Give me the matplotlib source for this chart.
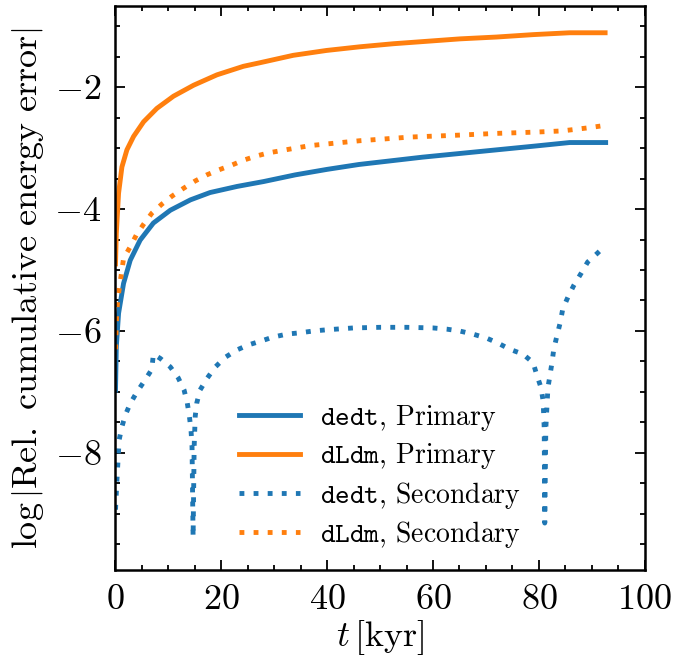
import numpy as np
import matplotlib
matplotlib.use("Agg")
import matplotlib.pyplot as plt
from matplotlib.ticker import MultipleLocator

plt.rcParams.update({
    "font.family": "serif",
    "font.serif": ["cmr10"],
    "mathtext.fontset": "cm",
    "axes.formatter.use_mathtext": True,
    "axes.unicode_minus": True,
    "font.size": 26,
})

# primary star, dedt
t_dedt_p = [0.05, 0.2, 0.63, 1.57, 2.83, 4.7, 7.2, 10.4, 14.2, 17.9, 23.0, 28.0,
            34.0, 40.0, 46.0, 52.0, 58.0, 65.0, 72.0, 79.0, 85.8, 92.6]
y_dedt_p = [-6.97, -6.26, -5.71, -5.22, -4.84, -4.51, -4.23, -4.02, -3.85, -3.73,
            -3.63, -3.55, -3.44, -3.35, -3.27, -3.21, -3.15, -3.09, -3.03, -2.97,
            -2.91, -2.91]

# primary star, dLdm
t_dldm_p = [0.05, 0.2, 0.63, 1.26, 2.2, 3.46, 5.35, 7.86, 11.0, 14.8, 19.2, 24.2,
            27.4, 33.6, 39.9, 46.2, 52.5, 58.8, 65.1, 72.0, 79.0, 85.8, 92.5]
y_dldm_p = [-4.90, -4.40, -3.74, -3.31, -3.03, -2.81, -2.57, -2.35, -2.15, -1.97,
            -1.80, -1.66, -1.60, -1.48, -1.40, -1.34, -1.29, -1.25, -1.21, -1.18,
            -1.14, -1.11, -1.11]

# secondary star, dedt
t_dedt_s = [0.05, 0.3, 0.6, 0.75, 1.26, 1.9, 2.83, 4.1, 5.66, 6.9, 7.2, 8.5, 10.4,
            11.9, 13.0, 13.6, 14.0, 14.3, 14.5, 14.7, 14.9, 15.1, 15.4, 16.0, 17.4,
            18.9, 20.8, 23.0, 25.1, 27.7, 29.8, 32.5, 34.9, 37.4, 40.0, 45.0, 50.0,
            55.0, 60.0, 62.6, 65.0, 67.5, 70.2, 72.3, 74.5, 77.0, 78.9, 79.6, 80.4,
            80.8, 81.0, 81.1, 81.3, 81.7, 82.1, 82.5, 82.8, 83.4, 84.0, 84.5, 85.5,
            86.6, 88.0, 89.2, 91.1, 92.3]
y_dedt_s = [-8.93, -8.47, -8.00, -7.78, -7.57, -7.38, -7.19, -7.00, -6.80, -6.63,
            -6.38, -6.45, -6.59, -6.77, -6.97, -7.18, -7.40, -7.62, -7.90, -9.38,
            -7.90, -7.40, -7.18, -6.97, -6.77, -6.59, -6.43, -6.31, -6.23, -6.16,
            -6.10, -6.05, -6.03, -6.00, -5.98, -5.95, -5.94, -5.94, -5.95, -5.97,
            -6.00, -6.05, -6.12, -6.20, -6.30, -6.38, -6.52, -6.72, -6.93, -7.15,
            -7.60, -9.15, -7.60, -6.93, -6.72, -6.50, -6.30, -6.08, -5.87, -5.64,
            -5.44, -5.25, -5.05, -4.87, -4.72, -4.62]

# secondary star, dLdm
t_dldm_s = [0.05, 0.3, 0.6, 1.57, 2.83, 3.96, 5.35, 6.9, 8.8, 10.7, 12.9, 15.1,
            17.3, 19.5, 22.0, 24.2, 26.7, 28.9, 32.8, 36.8, 41.5, 46.2, 51.0, 55.7,
            64.5, 72.0, 79.0, 84.3, 89.2, 91.6]
y_dldm_s = [-6.30, -5.66, -5.40, -4.81, -4.62, -4.43, -4.25, -4.07, -3.92, -3.79,
            -3.66, -3.54, -3.44, -3.36, -3.28, -3.20, -3.13, -3.08, -3.02, -2.96,
            -2.92, -2.88, -2.85, -2.82, -2.79, -2.76, -2.74, -2.72, -2.67, -2.64]

c_blue = "#1f77b4"
c_orange = "#ff7f0e"
lw = 3.5
dots = (0, (1, 1.9))

fig = plt.figure(figsize=(6.86, 6.59), dpi=100)
ax = fig.add_axes([0.168, 0.135, 0.772, 0.856])

ax.plot(t_dedt_p, y_dedt_p, color=c_blue, lw=lw, label=r"$\mathtt{dedt}$, Primary")
ax.plot(t_dldm_p, y_dldm_p, color=c_orange, lw=lw, label=r"$\mathtt{dLdm}$, Primary")
ax.plot(t_dedt_s, y_dedt_s, color=c_blue, lw=lw, ls=dots, label=r"$\mathtt{dedt}$, Secondary")
ax.plot(t_dldm_s, y_dldm_s, color=c_orange, lw=lw, ls=dots, label=r"$\mathtt{dLdm}$, Secondary")

ax.set_xlim(0, 100)
ax.set_ylim(-9.92, -0.67)
ax.xaxis.set_major_locator(MultipleLocator(20))
ax.xaxis.set_minor_locator(MultipleLocator(5))
ax.yaxis.set_major_locator(MultipleLocator(2))
ax.yaxis.set_minor_locator(MultipleLocator(0.5))
ax.tick_params(which="both", direction="in", top=True, right=True, width=1.3,
               labelsize=26)
ax.tick_params(which="major", length=7, pad=10)
ax.tick_params(which="minor", length=3.5)
for sp in ax.spines.values():
    sp.set_linewidth(1.8)

ax.set_xlabel(r"$t\,[\mathrm{kyr}]$", labelpad=2)
ax.set_ylabel(r"$\log\left|\mathrm{Rel.\ cumulative\ energy\ error}\right|$", labelpad=6)

ax.legend(loc="lower center", frameon=False, handlelength=2.2, handletextpad=0.7,
          labelspacing=0.3, fontsize=20, bbox_to_anchor=(0.5, -0.009))

fig.savefig("out.png", dpi=100)
